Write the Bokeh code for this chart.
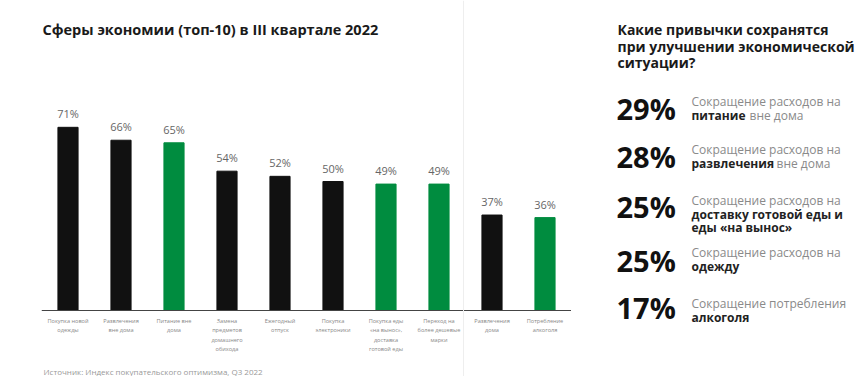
from bokeh.plotting import figure
from bokeh.models import FactorRange, Range1d, Label, ColumnDataSource, Span, Spacer
from bokeh.layouts import row
from bokeh.core.properties import value
from bokeh.embed import file_html
from bokeh.resources import INLINE

# ---- data ----
categories = [
    "Покупка новой\nодежды",
    "Развлечения\nвне дома",
    "Питание вне\nдома",
    "Замена\nпредметов\nдомашнего\nобихода",
    "Ежегодный\nотпуск",
    "Покупка\nэлектроники",
    "Покупка еды\n«на вынос»,\nдоставка\nготовой еды",
    "Переход на\nболее дешевые\nмарки",
    "Развлечения\nдома",
    "Потребление\nалкоголя",
]
shares = [71, 66, 65, 54, 52, 50, 49, 49, 37, 36]
highlight = [False, False, True, False, False, False, True, True, False, True]

title_left = "Сферы экономии (топ-10) в III квартале 2022"
source_note = "Источник: Индекс покупательского оптимизма, Q3 2022"

right_title = ["Какие привычки сохранятся", "при улучшении экономической", "ситуации?"]
habit_pct = [29, 28, 25, 25, 17]
habit_lines = [
    [[("Сокращение расходов на", False)], [("питание", True), ("вне дома", False)]],
    [[("Сокращение расходов на", False)], [("развлечения", True), ("вне дома", False)]],
    [[("Сокращение расходов на", False)], [("доставку готовой еды и", True)], [("еды «на вынос»", True)]],
    [[("Сокращение расходов на", False)], [("одежду", True)]],
    [[("Сокращение потребления", False)], [("алкоголя", True)]],
]

BLACK = "#111111"
GREEN = "#008c3f"
FONT = "Open Sans"

# ---- layout constants (pixels) ----
W, H = 868, 376
frame_left, frame_right = 41, 571
axis_y = 310
px_per_unit = 2.58
cat_w = (frame_right - frame_left) / len(categories)

def xd(px):
    return (px - frame_left) / cat_w

def yd(py):
    return (axis_y - py) / px_per_unit

p = figure(x_range=FactorRange(*categories), y_range=Range1d(yd(H), yd(0)),
           width=frame_right - frame_left, height=H, y_axis_type=None,
           min_border_left=0, min_border_right=0, min_border_top=0, min_border_bottom=0,
           output_backend="svg", toolbar_location=None)
src = ColumnDataSource(dict(
    cat=categories, val=shares,
    color=[GREEN if h else BLACK for h in highlight],
    lbl=[f"{v}%" for v in shares],
))
p.vbar(x="cat", top="val", bottom=0, width=0.38, color="color", source=src)
p.text(x="cat", y="val", text="lbl", source=src, text_align="center", text_baseline="bottom",
       y_offset=-6, text_font=value(FONT), text_font_size="11px", text_color="#666666")

p.add_layout(Span(location=xd(463), dimension="height", line_color="#eeeeee", line_width=1))

p.xgrid.visible = False
p.ygrid.visible = False
p.outline_line_color = None
xa = p.xaxis[0]
xa.fixed_location = 0
xa.axis_line_color = "#444444"
xa.major_tick_line_color = None
xa.minor_tick_line_color = None
xa.major_label_standoff = 0
xa.major_label_text_font = FONT
xa.major_label_text_font_size = "5.6px"
xa.major_label_text_color = "#888888"
xa.major_label_text_line_height = 1.2

def add_label(px, py, text, size, color, style="normal"):
    p.add_layout(Label(x=xd(px), y=yd(py), text=text, text_font=FONT, text_font_size=size,
                       text_font_style=style, text_color=color, text_baseline="alphabetic"))

add_label(42, 29, title_left, "14.5px", "#1a1a1a", "bold")
add_label(43, 371, source_note, "8px", "#999999")

# ---- right panel ----
r = figure(x_range=Range1d(frame_right, W), y_range=Range1d(H, 0), width=W - frame_right, height=H,
           x_axis_type=None, y_axis_type=None,
           min_border_left=0, min_border_right=0, min_border_top=0, min_border_bottom=0,
           output_backend="svg", toolbar_location=None)
r.xgrid.visible = False
r.ygrid.visible = False
r.outline_line_color = None

r.text(x=[617] * 3, y=[29 + i * 16.5 for i in range(3)], text=right_title, text_font=value(FONT),
       text_font_size="14px", text_font_style="bold", text_color="#1a1a1a", text_baseline="alphabetic")

num_base = [108, 156, 206, 260, 307]
r.text(x=[616] * 5, y=num_base, text=[f"{v}%" for v in habit_pct], text_font=value(FONT),
       text_font_size="29px", text_font_style="bold", text_color=BLACK, text_baseline="alphabetic")

desc_first = [101, 149, 200, 252, 303]
bold_w = {"питание": 58, "развлечения": 85}
xs, ys, ts, styles, cols = [], [], [], [], []
for first, lines in zip(desc_first, habit_lines):
    for li, segs in enumerate(lines):
        x = 691
        for t, b in segs:
            xs.append(x); ys.append(first + li * 13.5); ts.append(t)
            styles.append("bold" if b else "normal")
            cols.append("#222222" if b else "#8a8a8a")
            x += bold_w.get(t, 0)
for st in ("normal", "bold"):
    idx = [i for i, s in enumerate(styles) if s == st]
    r.text(x=[xs[i] for i in idx], y=[ys[i] for i in idx], text=[ts[i] for i in idx],
           text_color=[cols[i] for i in idx], text_font=value(FONT), text_font_size="12px",
           text_font_style=st, text_baseline="alphabetic")

layout = row(Spacer(width=frame_left, height=H), p, r)
open("out.html", "w").write(file_html(layout, INLINE))
